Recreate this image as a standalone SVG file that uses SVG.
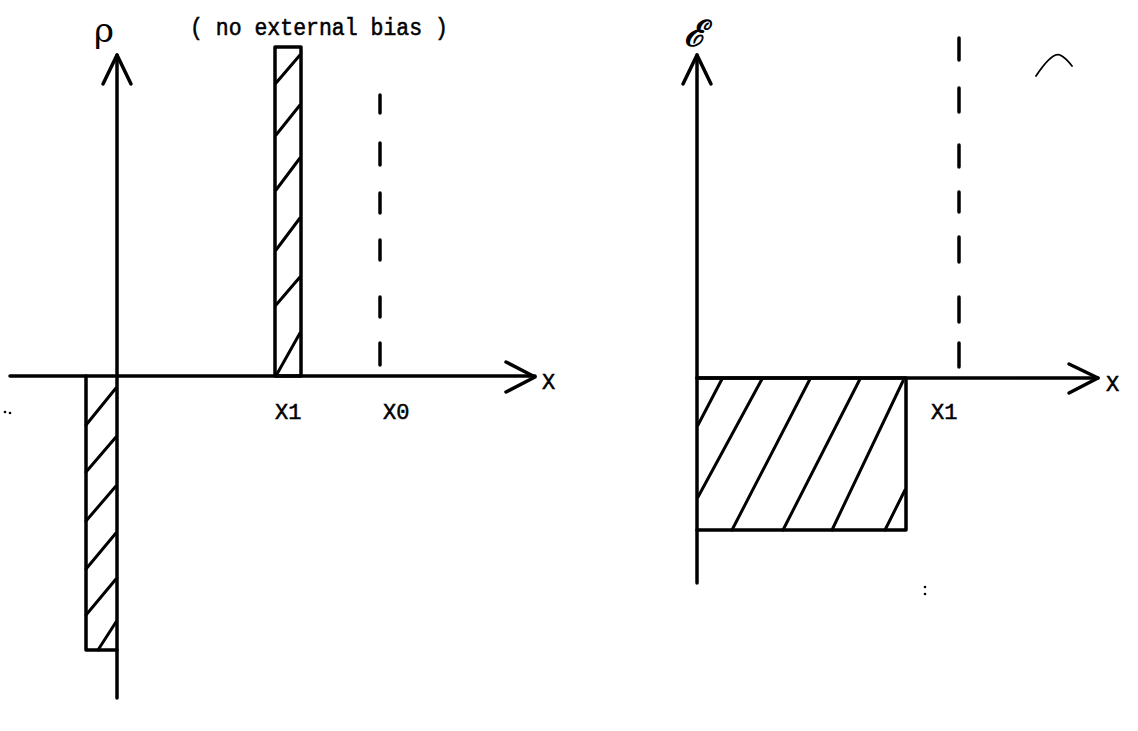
<svg xmlns="http://www.w3.org/2000/svg" width="1138" height="731" viewBox="0 0 1138 731">
<style>
.ln{stroke:#000;stroke-width:3.5;fill:none;stroke-linecap:round;stroke-linejoin:round}
.ht{stroke:#000;stroke-width:3;fill:none;stroke-linecap:round}
.ds{stroke:#000;stroke-width:3.5;stroke-linecap:round}
.t{font-family:"Liberation Mono","DejaVu Sans Mono",monospace;fill:#000;stroke:#000;stroke-width:0.5}
.sym{font-family:"DejaVu Serif","Liberation Serif",serif;fill:#000}
.dot{fill:#000}
</style>
<rect width="1138" height="731" fill="#fff"/>
<text class="t" transform="translate(190,35) scale(1,1.15)" x="0" y="0" font-size="21.5">( no external bias )</text>
<g id="left-plot">
  <text class="sym" x="94" y="42" font-size="34">ρ</text>
  <g id="left-axes">
    <line class="ln" x1="117" y1="55" x2="117" y2="698"/>
    <polyline class="ln" points="103,84 117,55 131,84"/>
    <line class="ln" x1="10" y1="376" x2="535" y2="376"/>
    <polyline class="ln" points="506,362 535,377 506,392"/>
    <text class="t" x="542" y="389" font-size="22">X</text>
  </g>
  <g id="left-upper-bar">
    <rect class="ln" x="275" y="47" width="26" height="329"/>
    <line class="ht" x1="300" y1="55" x2="276" y2="83"/>
    <line class="ht" x1="300" y1="105" x2="276" y2="135"/>
    <line class="ht" x1="300" y1="158" x2="276" y2="190"/>
    <line class="ht" x1="300" y1="218" x2="276" y2="250"/>
    <line class="ht" x1="300" y1="277" x2="276" y2="305"/>
    <line class="ht" x1="300" y1="333" x2="277" y2="374"/>
  </g>
  <g id="left-lower-bar">
    <polyline class="ln" points="86,376 86,650 117,650"/>
    <line class="ht" x1="116" y1="388" x2="86" y2="425"/>
    <line class="ht" x1="116" y1="437" x2="86" y2="472"/>
    <line class="ht" x1="116" y1="486" x2="86" y2="521"/>
    <line class="ht" x1="116" y1="533" x2="86" y2="569"/>
    <line class="ht" x1="116" y1="579" x2="86" y2="615"/>
    <line class="ht" x1="116" y1="622" x2="98" y2="650"/>
  </g>
  <g id="left-x0-dashes">
    <line class="ds" x1="380" y1="95" x2="380" y2="113"/>
    <line class="ds" x1="380" y1="143" x2="380" y2="165"/>
    <line class="ds" x1="380" y1="193" x2="380" y2="213"/>
    <line class="ds" x1="380" y1="240" x2="380" y2="260"/>
    <line class="ds" x1="380" y1="297" x2="380" y2="317"/>
    <line class="ds" x1="380" y1="343" x2="380" y2="365"/>
  </g>
  <text class="t" x="275" y="419" font-size="22">X1</text>
  <text class="t" x="383" y="419" font-size="22">X0</text>
  <circle class="dot" cx="5" cy="412" r="1.3"/>
  <circle class="dot" cx="10" cy="413" r="1.3"/>
</g>
<g id="right-plot">
  <text class="sym" x="684" y="46" font-size="36" font-style="italic" font-weight="bold">ℰ</text>
  <g id="right-axes">
    <line class="ln" x1="697" y1="55" x2="697" y2="583"/>
    <polyline class="ln" points="683,84 697,55 711,84"/>
    <line class="ln" x1="697" y1="378" x2="1098" y2="378"/>
    <polyline class="ln" points="1069,364 1098,378 1069,393"/>
    <text class="t" x="1106" y="391" font-size="22">X</text>
  </g>
  <g id="right-bar">
    <polyline class="ln" points="697,378 906,378 906,530 697,530"/>
    <line class="ht" x1="722" y1="379" x2="698" y2="425"/>
    <line class="ht" x1="762" y1="379" x2="698" y2="497"/>
    <line class="ht" x1="810" y1="379" x2="732" y2="530"/>
    <line class="ht" x1="860" y1="379" x2="783" y2="530"/>
    <line class="ht" x1="903" y1="381" x2="832" y2="530"/>
    <line class="ht" x1="905" y1="490" x2="885" y2="530"/>
  </g>
  <g id="right-dashes">
    <line class="ds" x1="959" y1="38" x2="959" y2="60"/>
    <line class="ds" x1="959" y1="88" x2="959" y2="112"/>
    <line class="ds" x1="959" y1="145" x2="959" y2="167"/>
    <line class="ds" x1="959" y1="192" x2="959" y2="212"/>
    <line class="ds" x1="959" y1="237" x2="959" y2="262"/>
    <line class="ds" x1="959" y1="297" x2="959" y2="322"/>
    <line class="ds" x1="959" y1="343" x2="959" y2="367"/>
  </g>
  <text class="t" x="931" y="419" font-size="22">X1</text>
  <path d="M1036,76 Q1052,52 1060,55 Q1066,58 1072,66" stroke="#000" stroke-width="1.8" fill="none" stroke-linecap="round"/>
  <circle class="dot" cx="925" cy="587" r="1.3"/>
  <circle class="dot" cx="925" cy="594" r="1.3"/>
</g>
</svg>
